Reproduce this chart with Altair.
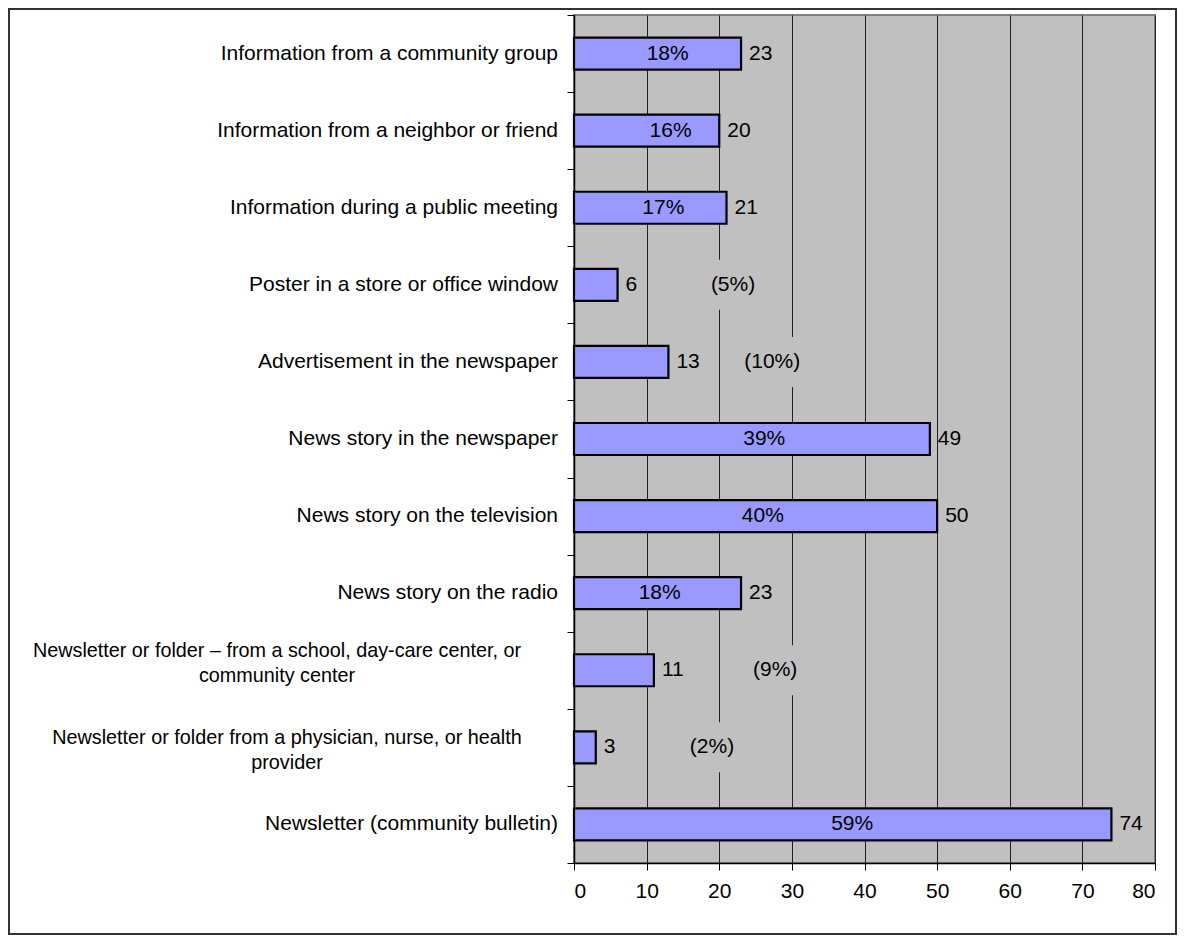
import altair as alt
import pandas as pd

categories = [
    "Information from a community group",
    "Information from a neighbor or friend",
    "Information during a public meeting",
    "Poster in a store or office window",
    "Advertisement in the newspaper",
    "News story in the newspaper",
    "News story on the television",
    "News story on the radio",
    "Newsletter or folder \u2013 from a school, day-care center, or\ncommunity center",
    "Newsletter or folder from a physician, nurse, or health\nprovider",
    "Newsletter (community bulletin)",
]
counts = [23, 20, 21, 6, 13, 49, 50, 23, 11, 3, 74]
pct_labels = ["18%", "16%", "17%", "(5%)", "(10%)", "39%", "40%", "18%", "(9%)", "(2%)", "59%"]
# x position (in axis units) where each percentage label sits
pct_label_x = [12.9, 13.3, 12.3, 21.9, 27.3, 26.2, 26.0, 11.8, 27.7, 19.0, 38.3]
x_ticks = [0, 10, 20, 30, 40, 50, 60, 70, 80]

df = pd.DataFrame({
    "cat": categories,
    "value": counts,
    "pct": pct_labels,
    "pct_x": pct_label_x,
})

FONT = "Liberation Sans"
FS = 21
FS_WRAP = 19.8

y_scale = alt.Scale(paddingInner=0, paddingOuter=0)
y_enc = alt.Y(
    "cat:N",
    sort=categories,
    scale=y_scale,
    axis=alt.Axis(
        title=None,
        labels=False,
        tickBand="extent",
        tickSize=7,
        tickColor="black",
        domainColor="black",
        domainWidth=1.5,
        grid=False,
    ),
)
y_plain = alt.Y("cat:N", sort=categories)

x_scale = alt.Scale(domain=[0, 80], nice=False, zero=True)
x_axis = alt.Axis(
    title=None,
    values=x_ticks,
    labelFont=FONT,
    labelFontSize=FS,
    labelColor="black",
    labelPadding=10,
    tickSize=7,
    tickColor="black",
    domainColor="black",
    domainWidth=1.5,
    grid=True,
    gridColor="#202020",
    gridWidth=1,
)

base = alt.Chart(df)

bars = base.mark_bar(size=32, fill="#9999FF", stroke="black", strokeWidth=2.2).encode(
    x=alt.X("value:Q", scale=x_scale, axis=x_axis),
    y=y_enc,
)

boxes = base.transform_filter("datum.pct_x > datum.value").transform_calculate(
    lo="datum.pct_x - 6", hi="datum.pct_x + 6"
).mark_bar(size=50, fill="#C0C0C0").encode(
    x=alt.X("lo:Q", scale=x_scale),
    x2="hi:Q",
    y=y_plain,
)

value_text = base.mark_text(
    align="left", baseline="middle", dx=8, font=FONT, fontSize=FS, color="black"
).encode(
    x=alt.X("value:Q", scale=x_scale),
    y=y_plain,
    text="value:Q",
)

pct_text = base.mark_text(
    align="center", baseline="middle", font=FONT, fontSize=FS, color="black"
).encode(
    x=alt.X("pct_x:Q", scale=x_scale),
    y=y_plain,
    text="pct:N",
)

# category labels (single-line ones right-aligned, wrapped ones centred like the original)
single_lbl = base.transform_filter("indexof(datum.cat, '\\n') < 0").mark_text(
    align="right", baseline="middle", font=FONT, fontSize=FS, color="black"
).encode(x=alt.value(-16), y=y_plain, text="cat:N")

wrap1 = base.transform_filter("indexof(datum.cat, 'community center') >= 0").transform_calculate(
    lines="split(datum.cat, '\\n')"
).mark_text(
    align="center", baseline="middle", font=FONT, fontSize=FS_WRAP, color="black",
    lineHeight=25, dy=-19
).encode(x=alt.value(-297), y=y_plain, text="lines:N")

wrap2 = base.transform_filter("indexof(datum.cat, 'provider') >= 0").transform_calculate(
    lines="split(datum.cat, '\\n')"
).mark_text(
    align="center", baseline="middle", font=FONT, fontSize=FS_WRAP, color="black",
    lineHeight=25, dy=-9
).encode(x=alt.value(-287), y=y_plain, text="lines:N")

frame = alt.Chart(alt.Data(values=[{"f": 1}])).mark_rect(
    fill=None, stroke="#333333", strokeWidth=2
).encode(
    x=alt.value(-565), x2=alt.value(602), y=alt.value(-6), y2=alt.value(919)
)

chart = alt.layer(bars, boxes, value_text, pct_text, single_lbl, wrap1, wrap2, frame).properties(
    width=581,
    height=848,
    autosize=alt.AutoSizeParams(type="none"),
    padding={"left": 566, "top": 7, "right": 22, "bottom": 72},
).configure_view(
    fill="#C0C0C0", stroke="#808080", strokeWidth=2
)

chart.save("out.html", embed_options={"renderer": "svg", "actions": False})
